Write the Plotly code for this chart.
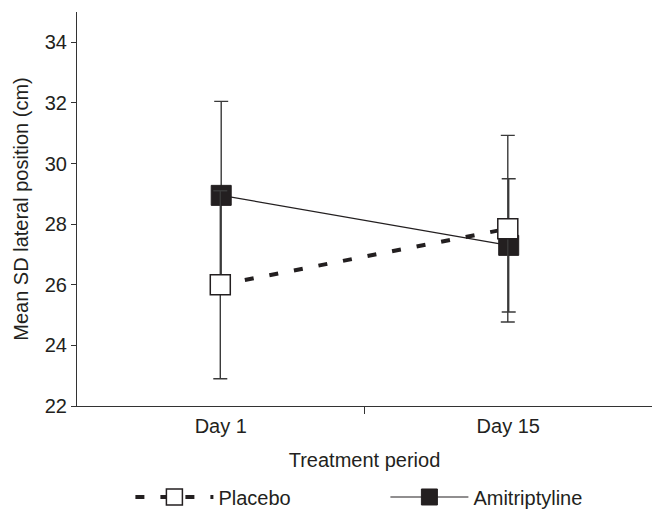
import plotly.graph_objects as go

categories = ["Day 1", "Day 15"]
cat_pos = [0.5, 1.5]
placebo_mean = [26.0, 27.85]
placebo_err = [3.1, 3.08]
amitrip_mean = [28.95, 27.3]
amitrip_err = [3.1, 2.2]
y_ticks = [22, 24, 26, 28, 30, 32, 34]

FONT = "Liberation Sans, Arial, sans-serif"
INK = "#231f20"
FS = 20
off = 0.0016

fig = go.Figure()
fig.add_trace(go.Scatter(
    x=[p + off for p in cat_pos], y=amitrip_mean, name="Amitriptyline", legendrank=2,
    mode="lines+markers",
    line=dict(color=INK, width=1.2),
    marker=dict(symbol="square", size=20, color=INK, line=dict(color=INK, width=1)),
    error_y=dict(type="data", array=amitrip_err, visible=True, color="#3a3a3a", thickness=1.4, width=7),
))
fig.add_trace(go.Scatter(
    x=[p - off for p in cat_pos], y=placebo_mean, name="Placebo", legendrank=1,
    mode="lines+markers",
    line=dict(color=INK, width=4, dash="9px,16px"),
    marker=dict(symbol="square", size=20, color="white", line=dict(color=INK, width=1.5)),
    error_y=dict(type="data", array=placebo_err, visible=True, color="#3a3a3a", thickness=1.4, width=7),
))

fig.update_layout(
    width=652, height=510,
    margin=dict(l=77, r=0, t=12, b=104),
    paper_bgcolor="white", plot_bgcolor="white",
    font=dict(family=FONT, size=FS, color=INK),
    showlegend=True,
    legend=dict(orientation="h", xref="container", yref="container",
                x=0.2, xanchor="left", y=0.0255, yanchor="middle",
                itemwidth=78, entrywidth=162, font=dict(size=FS), bgcolor="rgba(0,0,0,0)"),
    xaxis=dict(range=[0, 2], tickvals=cat_pos, ticktext=categories, ticks="",
               tickfont=dict(size=FS), ticklabelstandoff=2, automargin=False,
               showline=True, linecolor="#333", linewidth=1.2, showgrid=False, zeroline=False,
               title=dict(text="Treatment period", standoff=16, font=dict(size=FS)),
               minor=dict(tickvals=[1], ticks="outside", ticklen=7, tickcolor="#333", tickwidth=1)),
    yaxis=dict(range=[22, 35], tickvals=y_ticks, ticks="outside", ticklen=5, tickcolor="#333",
               tickfont=dict(size=FS), automargin=False,
               showline=True, linecolor="#333", linewidth=1.2, showgrid=False, zeroline=False,
               title=dict(text="Mean SD lateral position (cm)", standoff=10, font=dict(size=FS))),
)

fig.write_html("out.html", config={"displayModeBar": False},
               post_script="document.body.style.margin='0';document.body.style.overflow='hidden';")
